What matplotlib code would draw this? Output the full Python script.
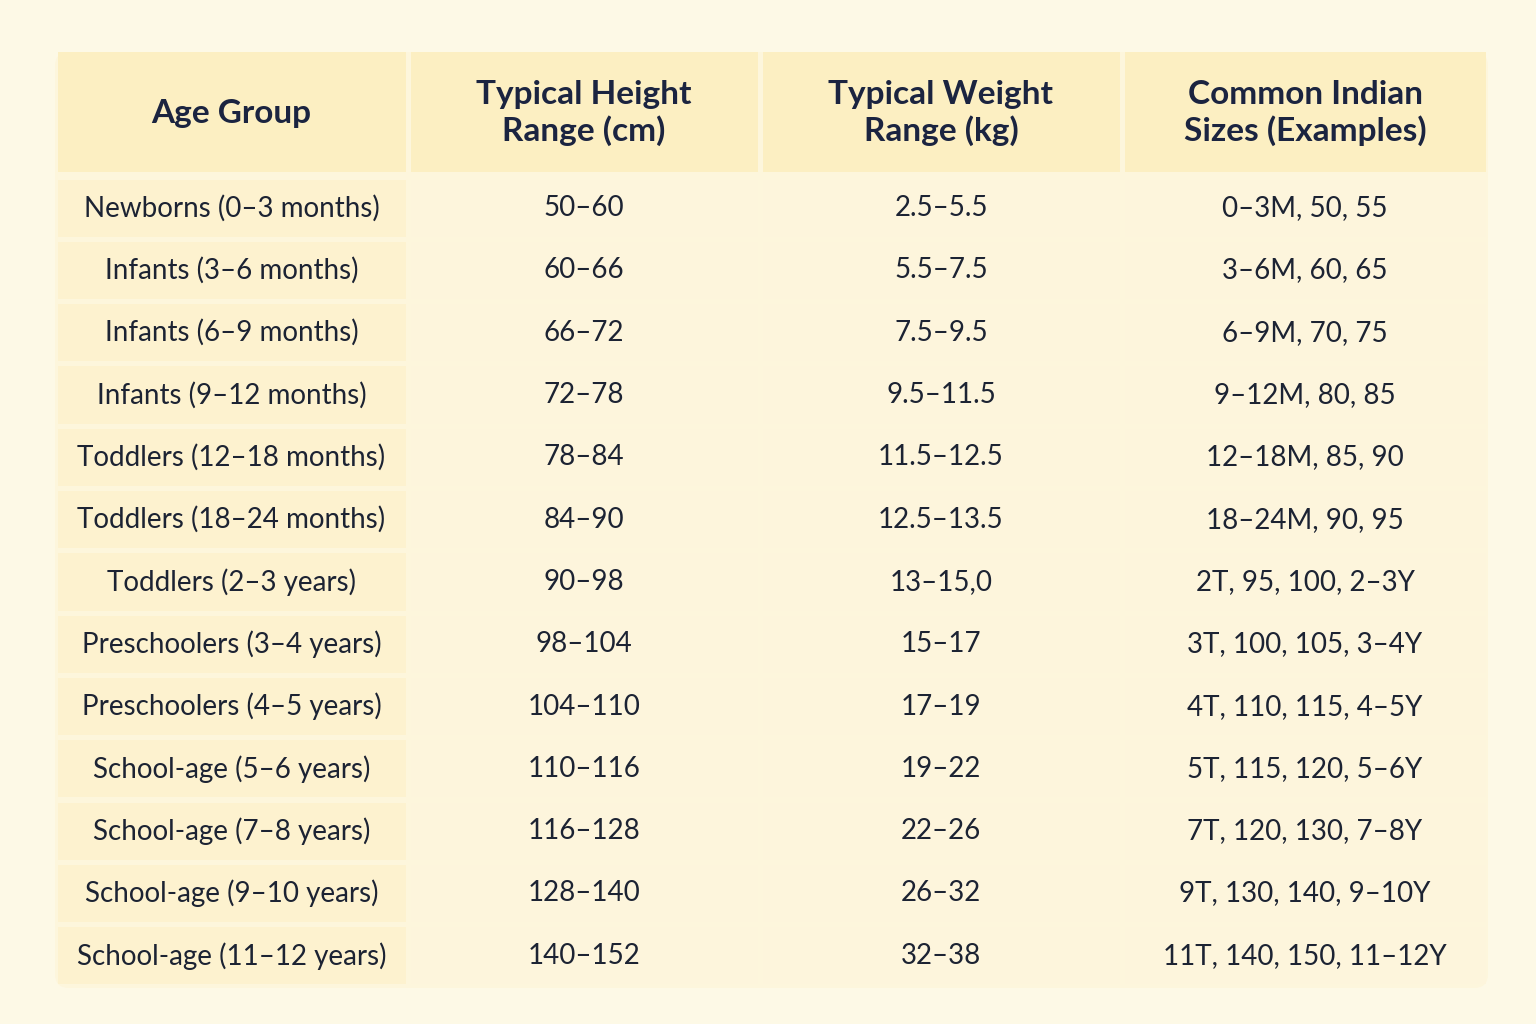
import matplotlib
matplotlib.use("Agg")
import matplotlib.pyplot as plt
from matplotlib.patches import FancyBboxPatch, Rectangle

headers = ["Age Group", "Typical Height\nRange (cm)", "Typical Weight\nRange (kg)", "Common Indian\nSizes (Examples)"]
age_groups = ["Newborns (0–3 months)", "Infants (3–6 months)", "Infants (6–9 months)", "Infants (9–12 months)",
              "Toddlers (12–18 months)", "Toddlers (18–24 months)", "Toddlers (2–3 years)", "Preschoolers (3–4 years)",
              "Preschoolers (4–5 years)", "School-age (5–6 years)", "School-age (7–8 years)", "School-age (9–10 years)",
              "School-age (11–12 years)"]
heights = ["50–60", "60–66", "66–72", "72–78", "78–84", "84–90", "90–98", "98–104", "104–110", "110–116",
           "116–128", "128–140", "140–152"]
weights = ["2.5–5.5", "5.5–7.5", "7.5–9.5", "9.5–11.5", "11.5–12.5", "12.5–13.5", "13–15,0", "15–17", "17–19",
           "19–22", "22–26", "26–32", "32–38"]
sizes = ["0–3M, 50, 55", "3–6M, 60, 65", "6–9M, 70, 75", "9–12M, 80, 85", "12–18M, 85, 90", "18–24M, 90, 95",
         "2T, 95, 100, 2–3Y", "3T, 100, 105, 3–4Y", "4T, 110, 115, 4–5Y", "5T, 115, 120, 5–6Y",
         "7T, 120, 130, 7–8Y", "9T, 130, 140, 9–10Y", "11T, 140, 150, 11–12Y"]

fig = plt.figure(figsize=(15.36, 10.24), dpi=100, facecolor="#fdf9e6")
ax = fig.add_axes([0, 0, 1, 1])
ax.set_xlim(0, 1536); ax.set_ylim(1024, 0); ax.axis("off")

cols = [55, 408, 760, 1122, 1488]
ax.add_patch(FancyBboxPatch((55, 52), 1433, 936, boxstyle="round,pad=0,rounding_size=14",
                            fc="#fdf6dc", ec="none"))
htop, hbot = 52, 174
rtop, rh = 177, 62.3
gap = 2.5
navy = "#1b2440"
for j in range(4):
    x0, x1 = cols[j], cols[j + 1]
    ax.add_patch(Rectangle((x0 + gap, htop), x1 - x0 - 2 * gap, hbot - htop - gap, fc="#fcefc2", ec="none"))
    ax.text((x0 + x1) / 2, (htop + hbot) / 2, headers[j], ha="center", va="center", fontsize=24,
            fontweight="bold", color=navy, family="Lato", linespacing=1.25)
data = [age_groups, heights, weights, sizes]
for i in range(len(age_groups)):
    y0 = rtop + i * rh
    for j in range(4):
        x0, x1 = cols[j], cols[j + 1]
        fc = "#fdf2cf" if j == 0 else "#fdf5dc"
        ax.add_patch(Rectangle((x0 + gap, y0 + gap), x1 - x0 - 2 * gap, rh - 2 * gap, fc=fc, ec="none"))
        ax.text((x0 + x1) / 2, y0 + rh / 2, data[j][i], ha="center", va="center", fontsize=20,
                color="#1c2333", family="Lato")
fig.savefig("out.png", dpi=100, facecolor=fig.get_facecolor())
